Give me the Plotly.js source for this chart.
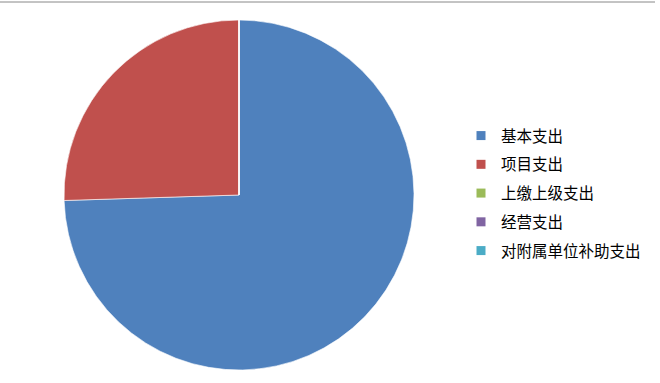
<!DOCTYPE html>
<html>
<head>
<meta charset="utf-8">
<script src="https://cdn.plot.ly/plotly-3.0.1.min.js"></script>
<style>
  html, body { margin: 0; padding: 0; background: #fff; }
  #chart { width: 660px; height: 383px; }
</style>
</head>
<body>
<div id="chart"></div>
<script>
// Expenditure categories and their shares (%)
const categories = ['基本支出', '项目支出', '上缴上级支出', '经营支出', '对附属单位补助支出'];
const shares = [74.5, 25.5, 0, 0, 0];
const sliceColors = ['#4F81BD', '#C0504D', '#9BBB59', '#8064A2', '#4BACC6'];

const W = 660, H = 383;
const cx = 239, cy = 195, r = 175;

// The pie itself
const pie = {
  type: 'pie',
  labels: categories,
  values: shares,
  sort: false,
  direction: 'clockwise',
  rotation: 0,
  textinfo: 'none',
  hoverinfo: 'label+percent',
  showlegend: false,
  marker: { colors: sliceColors, line: { color: 'rgba(255,255,255,0.6)', width: 1 } },
  domain: {
    x: [(cx - r) / W, (cx + r) / W],
    y: [1 - (cy + r) / H, 1 - (cy - r) / H]
  }
};

// Legend keys: small square swatches, one group per category so the
// entries can be spread out with tracegroupgap
const legendEntries = categories.map((name, i) => ({
  type: 'scatter',
  mode: 'markers',
  name: name,
  x: [null],
  y: [null],
  legendgroup: 'g' + i,
  hoverinfo: 'skip',
  marker: { symbol: 'square', size: 9, color: sliceColors[i] }
}));

const layout = {
  width: W,
  height: H,
  margin: { l: 0, r: 0, t: 0, b: 0 },
  paper_bgcolor: '#ffffff',
  plot_bgcolor: 'rgba(0,0,0,0)',
  xaxis: { visible: false },
  yaxis: { visible: false },
  showlegend: true,
  legend: {
    x: 461 / W,
    y: 1 - 119 / H,
    xanchor: 'left',
    yanchor: 'top',
    traceorder: 'grouped',
    tracegroupgap: 5.6,
    font: { family: 'Noto Sans CJK SC, sans-serif', size: 15.5, color: '#000' },
    bgcolor: 'rgba(0,0,0,0)'
  },
  shapes: [{
    type: 'line', xref: 'paper', yref: 'paper',
    x0: 0, x1: 655 / W, y0: 1 - 2 / H, y1: 1 - 2 / H,
    line: { color: '#888888', width: 1 }
  }]
};

Plotly.newPlot('chart', [pie].concat(legendEntries), layout, { displayModeBar: false, staticPlot: true });
</script>
</body>
</html>
